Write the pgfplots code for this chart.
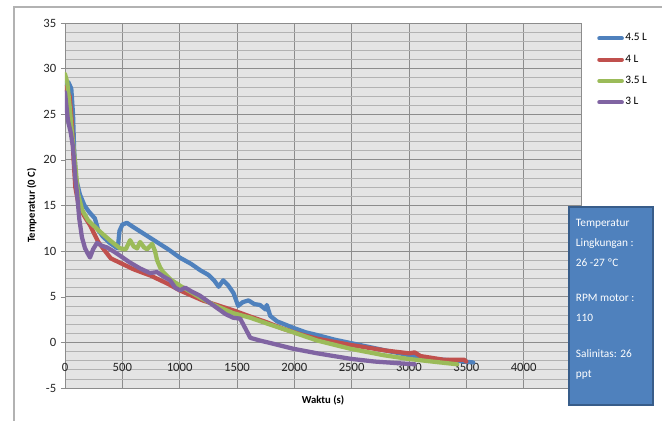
\documentclass[border=0pt]{standalone}
\usepackage{pgfplots}
\pgfplotsset{compat=1.18}
\usepackage{fontspec}
\setmainfont{Carlito}
\definecolor{s1}{HTML}{4F81BD}
\definecolor{s2}{HTML}{C0504D}
\definecolor{s3}{HTML}{9BBB59}
\definecolor{s4}{HTML}{8064A2}
\definecolor{plotbg}{HTML}{E4E4E4}
\definecolor{majg}{HTML}{8C8C8C}
\definecolor{ming}{HTML}{B2B2B2}
\definecolor{boxfill}{HTML}{4F81BD}
\definecolor{boxedge}{HTML}{385D8A}

\begin{document}
\begin{tikzpicture}
\useasboundingbox (-48.75pt,-24.75pt) rectangle (447.75pt,291pt);
\draw[color=ming,line width=0.8pt] (-38.25pt,-40pt) -- (-38.25pt,285.75pt) -- (460pt,285.75pt);
\begin{axis}[at={(0pt,0pt)}, anchor=south west, scale only axis,
  width=387pt, height=273.75pt,
  xmin=0, xmax=4500, ymin=-5, ymax=35,
  xtick={0,500,...,4000}, ytick={-5,0,...,35},
  minor y tick num=4,
  xmajorgrids, ymajorgrids, yminorgrids,
  major grid style={draw=majg, line width=0.6pt},
  minor grid style={draw=ming, line width=0.5pt},
  axis background/.style={fill=plotbg},
  axis line style={draw=majg, line width=0.6pt},
  xtick style={draw=none}, minor tick length=0pt,
  ytick style={draw=majg}, major tick length=3pt, tick align=outside, ytick pos=left,
  scaled x ticks=false,
  /pgf/number format/assume math mode=true,
  /pgf/number format/set thousands separator={},
  tick label style={font=\fontsize{9.5}{10}\selectfont, text=black!85},
  xticklabel style={yshift=25pt},
  xlabel={Waktu (s)}, ylabel={Temperatur (0 C)},
  every axis x label/.style={at={(axis description cs:0.5,0)}, yshift=-9pt, anchor=center, font=\fontsize{8}{9}\selectfont\bfseries},
  every axis y label/.style={at={(axis description cs:0,0.5)}, xshift=-25pt, rotate=90, anchor=center, font=\fontsize{8}{9}\selectfont\bfseries},
  legend style={at={(axis description cs:1.031,0.975)}, anchor=north west, draw=none, fill=none,
    font=\fontsize{8.5}{9}\selectfont, row sep=7pt, inner sep=0pt, nodes={inner sep=1pt}},
  legend cell align=left,
  legend image code/.code={\draw[#1,line width=3pt] (0pt,0pt) -- (17pt,0pt);},
  every axis plot/.append style={line width=3.2pt, line join=round, line cap=round},
]
\addplot[s1] coordinates {
(0,28.3) (30,28.5) (55,27.8) (70,25) (80,21) (95,18) (130,16.2) (170,15) (210,14.3) (260,13.6) (290,12.3) (330,11.6) (390,10.9) (460,10.3) (475,12.2) (500,12.9) (540,13.1) (600,12.6) (700,11.8) (800,11.0) (900,10.2) (1000,9.3) (1100,8.6) (1180,7.9) (1250,7.4) (1300,6.8) (1340,6.1) (1380,6.8) (1420,6.3) (1470,5.4) (1510,4.0) (1550,4.4) (1600,4.6) (1650,4.2) (1700,4.1) (1750,3.6) (1760,4.1) (1790,2.9) (1850,2.3) (1990,1.6) (2100,1.1) (2200,0.8) (2350,0.3) (2500,-0.1) (2650,-0.5) (2800,-0.9) (3000,-1.4) (3200,-1.8) (3400,-2.0) (3560,-2.2)
};
\addlegendentry{4.5 L}
\addplot[s2] coordinates {
(0,28) (40,27) (60,24) (75,20) (90,17) (120,15) (170,13.8) (220,12.8) (290,11) (350,10.0) (400,9.2) (500,8.6) (600,8.0) (750,7.3) (900,6.4) (1000,5.7) (1200,4.6) (1470,3.5) (1600,2.9) (1760,2.2) (1900,1.5) (2050,0.9) (2200,0.4) (2500,-0.3) (2800,-0.9) (3000,-1.2) (3050,-1.1) (3100,-1.5) (3300,-1.9) (3480,-1.9) (3500,-2.1)
};
\addlegendentry{4 L}
\addplot[s3] coordinates {
(0,29.4) (20,28.5) (44,25.4) (60,23) (87,19.9) (113,16.3) (150,14.5) (200,13.4) (290,12.3) (390,11.2) (480,10.3) (530,10.2) (568,11.2) (600,10.5) (629,10.3) (655,11.0) (690,10.4) (716,10.2) (760,10.8) (785,10.0) (803,9.0) (830,8.2) (856,7.7) (920,6.9) (1004,6.2) (1100,5.5) (1180,4.9) (1300,4.1) (1467,3.2) (1616,2.7) (1800,1.9) (1991,1.1) (2200,0.2) (2489,-0.7) (2777,-1.4) (2987,-1.8) (3200,-2.1) (3420,-2.4)
};
\addlegendentry{3.5 L}
\addplot[s4] coordinates {
(0,27.4) (26,24.3) (50,23) (70,21.4) (90,18) (105,16.3) (125,13.5) (148,11.5) (175,10.3) (200,9.7) (218,9.3) (245,10.2) (279,10.9) (320,10.6) (367,10.4) (420,10.0) (480,9.5) (560,8.8) (655,8.1) (740,7.6) (803,7.7) (860,7.2) (917,6.8) (960,6.0) (1004,5.7) (1048,6.0) (1100,5.6) (1179,5.1) (1300,4.0) (1400,3.1) (1467,2.7) (1528,2.6) (1570,1.6) (1616,0.5) (1700,0.2) (1800,-0.1) (1991,-0.7) (2200,-1.2) (2489,-1.8) (2700,-2.1) (2926,-2.3) (3050,-2.4)
};
\addlegendentry{3 L}
\end{axis}
\draw[boxedge, fill=boxfill, line width=1pt] (378pt,-12.75pt) rectangle (441pt,135.75pt);
\begin{scope}[every node/.style={anchor=base west, text=white, font=\fontsize{8.5}{10}\selectfont, inner sep=0pt}]
\node at (383pt,121pt) {Temperatur};
\node at (383pt,106pt) {Lingkungan :};
\node at (383pt,91pt) {26 -27 ºC};
\node at (383pt,65pt) {RPM motor :};
\node at (383pt,50pt) {110};
\node at (383pt,23pt) {Salinitas: 26};
\node at (383pt,8pt) {ppt};
\end{scope}
\end{tikzpicture}
\end{document}
